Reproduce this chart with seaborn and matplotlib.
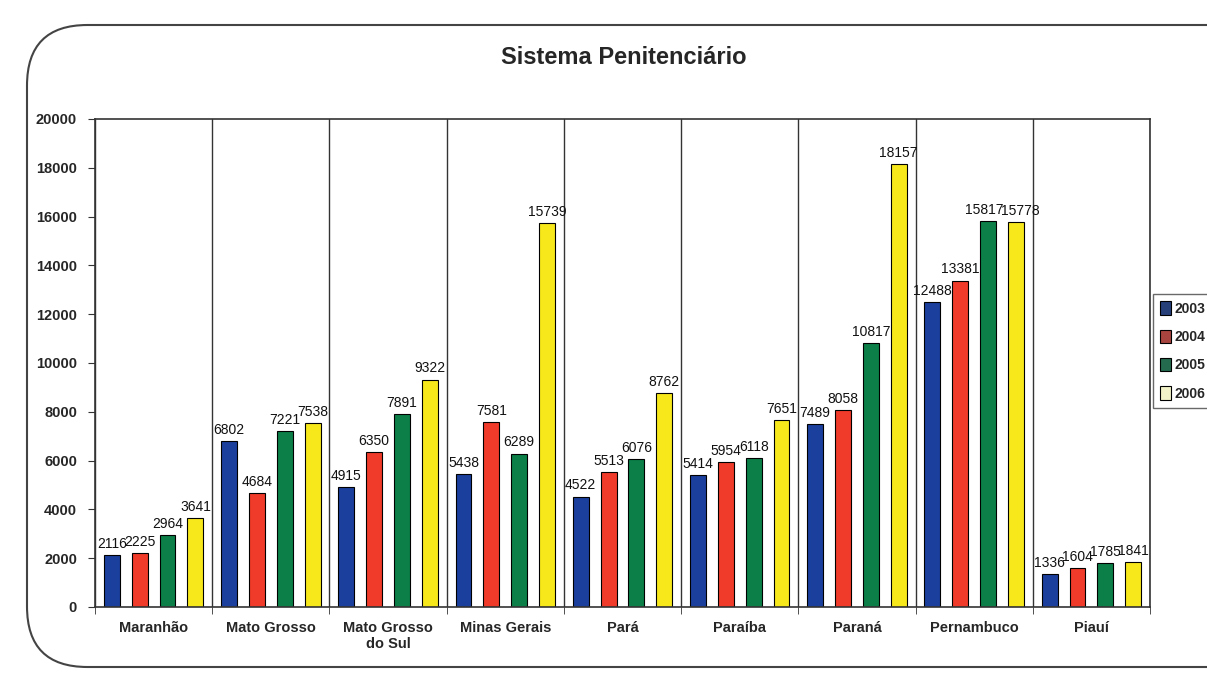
import pandas as pd
import numpy as np
import matplotlib
matplotlib.use('Agg')
import matplotlib.pyplot as plt
import seaborn as sns
from matplotlib.patches import FancyBboxPatch

# Data
estados = ['Maranhão', 'Mato Grosso', 'Mato Grosso\ndo Sul', 'Minas Gerais', 'Pará',
           'Paraíba', 'Paraná', 'Pernambuco', 'Piauí']
anos = ['2003', '2004', '2005', '2006']
v_2003 = [2116, 6802, 4915, 5438, 4522, 5414, 7489, 12488, 1336]
v_2004 = [2225, 4684, 6350, 7581, 5513, 5954, 8058, 13381, 1604]
v_2005 = [2964, 7221, 7891, 6289, 6076, 6118, 10817, 15817, 1785]
v_2006 = [3641, 7538, 9322, 15739, 8762, 7651, 18157, 15778, 1841]
cores = ['#1b3f9c', '#f03a2a', '#0b7f47', '#f7e81c']
cores_legenda = ['#27407a', '#a8443f', '#236a4e', '#f2f2c8']

df = pd.DataFrame({
    'estado': estados * 4,
    'ano': [a for a in anos for _ in estados],
    'valor': v_2003 + v_2004 + v_2005 + v_2006,
})

sns.set_style('white')
plt.rcParams['font.family'] = ['Liberation Sans', 'DejaVu Sans']

fig = plt.figure(figsize=(12.07, 6.73), dpi=100)
# rounded frame around the chart
frame = FancyBboxPatch((27 / 1207, 1 - 667 / 673), 1.2, (667 - 25) / 673,
                       boxstyle='round,pad=0,rounding_size=0.05',
                       transform=fig.transFigure, fill=False,
                       edgecolor='#444444', linewidth=1.5, mutation_aspect=1.8)
fig.patches.append(frame)

ax = fig.add_axes([95 / 1207, 1 - 607 / 673, (1150 - 95) / 1207, (607 - 119) / 673])
sns.barplot(data=df, x='estado', y='valor', hue='ano', palette=cores, saturation=1,
            width=0.95, gap=0.43, edgecolor='black', linewidth=0.8,
            ax=ax, legend=False)

rotulos = []
for cont in ax.containers:
    rotulos.append(ax.bar_label(cont, padding=3, fontsize=10, color='#111111'))
# Pernambuco 2005/2006 labels sit side by side, push them apart a little
rotulos[2][7].xyann = (-3, 3)
rotulos[3][7].xyann = (3, 3)

ax.set_ylim(0, 20000)
ax.set_yticks(np.arange(0, 20001, 2000))
ax.set_xlim(-0.5, len(estados) - 0.5)
ax.set_xticks(np.arange(len(estados) + 1) - 0.5, minor=True)
ax.grid(True, which='minor', axis='x', color='#333333', linewidth=1)
ax.tick_params(axis='x', which='major', length=0, pad=10)
ax.tick_params(axis='x', which='minor', length=5, direction='out', color='#333333')
ax.tick_params(axis='y', length=5, direction='out', color='#333333', pad=8)
ax.yaxis.set_ticks_position('left')
ax.xaxis.set_ticks_position('bottom')
for lab in ax.get_xticklabels() + ax.get_yticklabels():
    lab.set_fontweight('bold')
    lab.set_fontsize(10.5)
ax.set_xlabel('')
ax.set_ylabel('')
for s in ax.spines.values():
    s.set_color('#333333')
    s.set_linewidth(1.2)

fig.text(0.517, 1 - 57 / 673, 'Sistema Penitenciário', ha='center', va='center',
         fontsize=17, fontweight='bold')

handles = [plt.Rectangle((0, 0), 1, 1, facecolor=c, edgecolor='black', linewidth=0.8)
           for c in cores_legenda]
leg = fig.legend(handles, anos, loc='center left',
                 bbox_to_anchor=(1153 / 1207, 1 - 351 / 673),
                 frameon=True, fancybox=False, edgecolor='#444444',
                 prop={'weight': 'bold', 'size': 10}, handlelength=0.8,
                 handleheight=1.1, handletextpad=0.25, labelspacing=1.0,
                 borderpad=0.5, borderaxespad=0)

fig.savefig('out.png', dpi=100)
